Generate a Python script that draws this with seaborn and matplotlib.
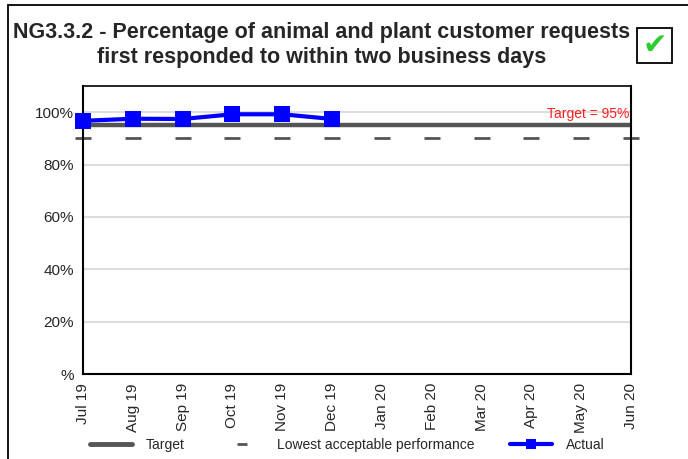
import matplotlib
matplotlib.use("Agg")
import matplotlib.pyplot as plt
import seaborn as sns
import pandas as pd
from matplotlib.lines import Line2D
from matplotlib.patches import Rectangle

months = ["Jul 19", "Aug 19", "Sep 19", "Oct 19", "Nov 19", "Dec 19",
          "Jan 20", "Feb 20", "Mar 20", "Apr 20", "May 20", "Jun 20"]
actual = [96.7, 97.5, 97.4, 99.2, 99.2, 97.4]
target_value = 95
lowest_value = 90
y_tick_values = [0, 20, 40, 60, 80, 100]
y_tick_labels = ["%", "20%", "40%", "60%", "80%", "100%"]

sns.set_theme(style="white")
plt.rcParams["font.family"] = ["Liberation Sans", "DejaVu Sans"]

df_all = pd.DataFrame({"x": range(len(months)), "month": months,
                       "target": [target_value] * len(months),
                       "lowest": [lowest_value] * len(months)})
df_act = pd.DataFrame({"x": range(len(actual)), "actual": actual})

W, H = 688, 459
fig = plt.figure(figsize=(W / 100, H / 100), dpi=100)
ax = fig.add_axes([83 / W, 1 - 374 / H, (631 - 83) / W, (374 - 86) / H])

# gridlines
for v in y_tick_values[1:]:
    ax.axhline(v, color="#dddddd", lw=1.5, zorder=0.5)

sns.lineplot(data=df_all, x="x", y="target", ax=ax, color="#555555", lw=3.2,
             zorder=2, legend=False)
ax.plot(df_all["x"], df_all["lowest"], ls="none", marker="_", ms=12, mew=2,
        color="#555555", zorder=2, clip_on=False)
sns.lineplot(data=df_act, x="x", y="actual", ax=ax, color="#0000ff", lw=3,
             marker="s", markersize=11, markeredgewidth=0, zorder=3,
             legend=False, clip_on=False)

ax.set_xlim(0, len(months) - 1)
ax.set_ylim(0, 110)
ax.set_xticks(range(len(months)))
ax.set_xticklabels(months, rotation=90, fontsize=11)
ax.set_yticks(list(range(0, 111, 10)))
ax.set_yticklabels([y_tick_labels[y_tick_values.index(v)] if v in y_tick_values else ""
                    for v in range(0, 111, 10)], fontsize=11)
ax.tick_params(axis="both", direction="inout", length=11, width=1.5, color="black", pad=1)
ax.set_xlabel("")
ax.set_ylabel("")
for s in ax.spines.values():
    s.set_color("black")
    s.set_linewidth(1.5)
ax.spines["top"].set_linewidth(1.2)

ax.text(len(months) - 1 - 0.04, 97.6, "Target = 95%", color="#ff2020",
        fontsize=10, ha="right", va="baseline")

fig.text(322 / W, 1 - 45 / H,
         "NG3.3.2 - Percentage of animal and plant customer requests\nfirst responded to within two business days",
         ha="center", va="center", fontsize=15.5, fontweight="bold", linespacing=1.2)

# check box
fig.patches.append(Rectangle((637 / W, 1 - 63 / H), 35 / W, 35 / H,
                             transform=fig.transFigure, fill=False, ec="black", lw=1.3))
fig.text(655 / W, 1 - 46 / H, "\u2714", color="#2fcc2f", fontsize=21,
         ha="center", va="center", family="DejaVu Sans")

# outer frame (left and top edges visible)
fig.patches.append(Rectangle((8 / W, -0.1), 1.2, 1.1 - 5 / H,
                             transform=fig.transFigure, fill=False, ec="black", lw=1.3))

handles = [Line2D([], [], color="#555555", lw=3.5),
           Line2D([], [], color="#555555", ls="none", marker="_", ms=7, mew=2),
           Line2D([], [], color="#0000ff", lw=3, marker="s", ms=7, mew=0)]
fig.legend(handles, ["Target", "Lowest acceptable performance", "Actual"],
           loc="center", bbox_to_anchor=(0.505, 0.030), ncol=3, frameon=False,
           fontsize=10, handlelength=3.0, handletextpad=1.0, columnspacing=2.6)

fig.savefig("out.png", dpi=100)
